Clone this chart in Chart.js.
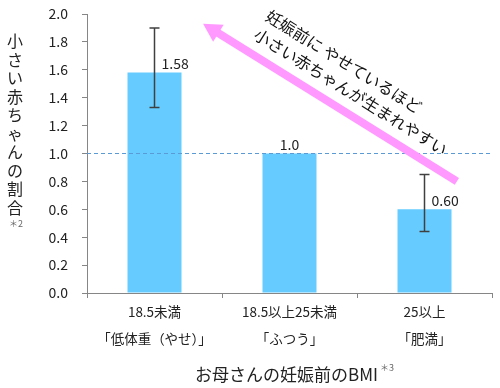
<!DOCTYPE html>
<html>
<head>
<meta charset="utf-8">
<script src="https://cdn.jsdelivr.net/npm/chart.js@4.4.1/dist/chart.umd.min.js"></script>
<style>
  html, body { margin: 0; padding: 0; background: #fff; }
  #wrap { width: 500px; height: 388px; }
</style>
</head>
<body>
<div id="wrap"><canvas id="bmi_chart" width="500" height="388"></canvas></div>
<script>
// Chart data
var categories  = [['18.5未満', '「低体重（やせ）」'], ['18.5以上25未満', '「ふつう」'], ['25以上', '「肥満」']]
var ratios      = [1.58, 1.0, 0.60]
var ratioLabels = ['1.58', '1.0', '0.60']
var errLow      = [1.33, null, 0.44]
var errHigh     = [1.90, null, 0.85]
var refLine     = 1.0

var yTitle  = '小さい赤ちゃんの割合'
var xTitle  = 'お母さんの妊娠前のBMI'
var arrowText = ['妊娠前に やせているほど', '小さい赤ちゃんが生まれやすい']

var FONT = '"Noto Sans CJK JP", "Noto Sans", sans-serif'

var overlay = {
    id: 'overlay',
    afterDatasetsDraw: function (chart) {
        var ctx = chart.ctx
        var x = chart.scales.x
        var y = chart.scales.y
        var area = chart.chartArea

        // Dashed reference line
        ctx.save()
        ctx.strokeStyle = '#5b9bd5'
        ctx.lineWidth = 1.2
        ctx.setLineDash([4, 3])
        ctx.beginPath()
        ctx.moveTo(area.left, y.getPixelForValue(refLine))
        ctx.lineTo(area.right, y.getPixelForValue(refLine))
        ctx.stroke()
        ctx.restore()

        // Error bars
        ctx.save()
        ctx.strokeStyle = '#404040'
        ctx.lineWidth = 1.5
        errLow.forEach(function (lo, i) {
            if (lo === null) return
            var cx = x.getPixelForValue(i)
            var y1 = y.getPixelForValue(errHigh[i])
            var y2 = y.getPixelForValue(lo)
            ctx.beginPath()
            ctx.moveTo(cx, y1); ctx.lineTo(cx, y2)
            ctx.moveTo(cx - 5, y1); ctx.lineTo(cx + 5, y1)
            ctx.moveTo(cx - 5, y2); ctx.lineTo(cx + 5, y2)
            ctx.stroke()
        })
        ctx.restore()

        // Value labels
        ctx.save()
        ctx.fillStyle = '#222'
        ctx.font = '14px ' + FONT
        ctx.textBaseline = 'bottom'
        ratios.forEach(function (v, i) {
            var cx = x.getPixelForValue(i)
            var top = y.getPixelForValue(v)
            if (errLow[i] !== null) {
                ctx.textAlign = 'left'
                ctx.fillText(ratioLabels[i], cx + 7, top - 2)
            } else {
                ctx.textAlign = 'center'
                ctx.fillText(ratioLabels[i], cx, top - 2)
            }
        })
        ctx.restore()

        // Pink arrow
        var sx = x.getPixelForValue(2.24), sy = y.getPixelForValue(0.80)
        var ex = x.getPixelForValue(0.36), ey = y.getPixelForValue(1.93)
        var ang = Math.atan2(ey - sy, ex - sx)
        ctx.save()
        ctx.translate(ex, ey)
        ctx.rotate(ang)
        var len = Math.hypot(ex - sx, ey - sy)
        ctx.fillStyle = '#ff99ff'
        ctx.fillRect(-len, -4, len - 16, 8)
        ctx.beginPath()
        ctx.moveTo(0, 0)
        ctx.lineTo(-18, -10)
        ctx.lineTo(-18, 10)
        ctx.closePath()
        ctx.fill()
        ctx.restore()

        // Rotated text along arrow
        var mx = (sx + ex) / 2, my = (sy + ey) / 2
        ctx.save()
        ctx.translate(mx, my)
        ctx.rotate(ang + Math.PI)
        ctx.fillStyle = '#111'
        ctx.font = '16px ' + FONT
        ctx.textAlign = 'center'
        ctx.textBaseline = 'middle'
        ctx.fillText(arrowText[0], -10, -42)
        ctx.fillText(arrowText[1], 12, -20)
        ctx.restore()
    },
    afterDraw: function (chart) {
        var ctx = chart.ctx
        ctx.save()
        ctx.fillStyle = '#222'
        ctx.textAlign = 'center'
        ctx.textBaseline = 'middle'

        // Vertical y title
        ctx.font = '16px ' + FONT
        Array.from(yTitle).forEach(function (ch, i) {
            ctx.fillText(ch, 15, 41 + i * 18.5)
        })
        ctx.font = '9px ' + FONT
        ctx.fillStyle = '#666'
        ctx.fillText('＊2', 16, 224)

        // x title with superscript
        ctx.fillStyle = '#222'
        ctx.font = '17px ' + FONT
        ctx.textAlign = 'left'
        ctx.fillText(xTitle, 195, 375)
        var w = ctx.measureText(xTitle).width
        ctx.font = '9px ' + FONT
        ctx.fillStyle = '#666'
        ctx.fillText('＊3', 195 + w + 2, 368)
        ctx.restore()
    }
}

var ctx = document.getElementById('bmi_chart')

new Chart(ctx, {
    type: 'bar',
    data: {
        labels: categories,
        datasets: [
            {
                label: '小さい赤ちゃんの割合',
                data: ratios,
                backgroundColor: '#66ccff',
                barPercentage: 0.4,
                categoryPercentage: 1.0
            }
        ]
    },
    options: {
        responsive: false,
        animation: false,
        layout: { padding: { left: 0, top: 14, right: 8, bottom: 0 } },
        plugins: {
            legend: { display: false },
            tooltip: { enabled: false }
        },
        scales: {
            x: {
                afterFit: function (scale) {
                    scale.height = 95
                    scale.paddingLeft = 0
                    scale.paddingRight = 0
                },
                grid: {
                    offset: true,
                    drawOnChartArea: false,
                    tickLength: 5,
                    color: '#868686'
                },
                border: { color: '#868686' },
                ticks: {
                    color: '#222',
                    font: { family: FONT, size: 13.5, lineHeight: 2.0 },
                    padding: 0,
                    maxRotation: 0
                }
            },
            y: {
                min: 0,
                max: 2,
                afterFit: function (scale) {
                    scale.width = 87
                    scale.paddingTop = 0
                    scale.paddingBottom = 0
                },
                grid: {
                    drawOnChartArea: false,
                    tickLength: 5,
                    color: '#868686'
                },
                border: { color: '#868686' },
                ticks: {
                    stepSize: 0.2,
                    color: '#222',
                    padding: 14,
                    font: { family: FONT, size: 14 },
                    callback: function (v) { return v.toFixed(1) }
                }
            }
        }
    },
    plugins: [overlay]
})
</script>
</body>
</html>
